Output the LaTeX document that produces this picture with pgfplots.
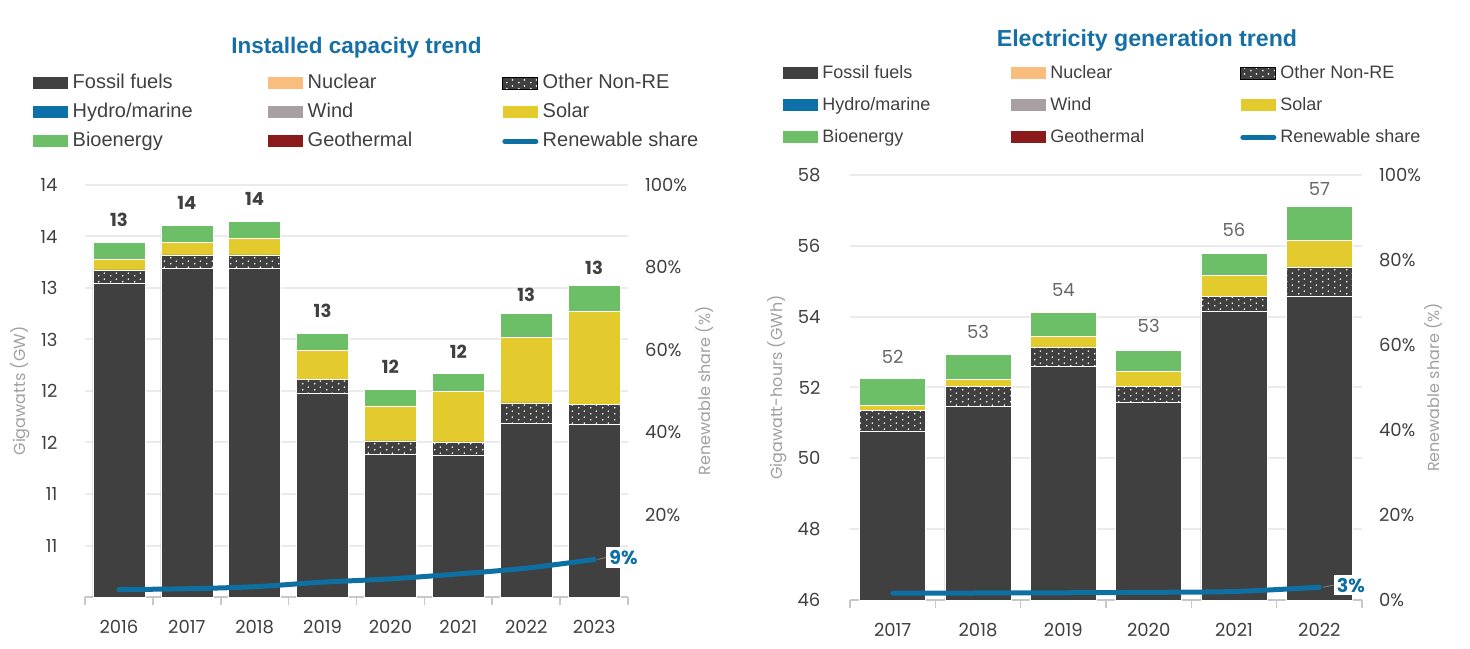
\documentclass[border=0pt]{standalone}
\usepackage{fontspec}
\setmainfont{Liberation Sans}
\newfontfamily\numfont{Poppins}
\usepackage{pgfplots}
\usepackage{pgfplotstable}
\pgfplotsset{compat=1.18}
\usetikzlibrary{patterns}
\definecolor{fossil}{HTML}{404040}
\definecolor{nuclear}{HTML}{F9BD7E}
\definecolor{hydro}{HTML}{0E70A8}
\definecolor{wind}{HTML}{A89FA3}
\definecolor{solar}{HTML}{E3CB2E}
\definecolor{bio}{HTML}{6DBF67}
\definecolor{geo}{HTML}{8B1A1A}
\definecolor{share}{HTML}{0E6FA3}
\definecolor{titlec}{HTML}{1770A5}
\definecolor{gridc}{HTML}{EBEBEB}
\definecolor{axc}{HTML}{C8C8C8}
\definecolor{tickc}{HTML}{404040}
\definecolor{labc}{HTML}{A0A0A0}
\definecolor{barlab}{HTML}{666666}

\pgfdeclarepatternformonly{wdots}{\pgfqpoint{0pt}{0pt}}{\pgfqpoint{6pt}{3pt}}{\pgfqpoint{6pt}{3pt}}{%
  \pgfpathcircle{\pgfqpoint{1.5pt}{0.75pt}}{0.5pt}%
  \pgfpathcircle{\pgfqpoint{4.5pt}{2.25pt}}{0.5pt}%
  \pgfusepath{fill}}

\pgfplotsset{
  barleg/.style={legend image code/.code={\fill[##1, draw=none] (0pt,-3pt) rectangle (17.5pt,3pt);}},
  lineleg/.style={legend image code/.code={\draw[##1, line cap=round] (1pt,0pt) -- (16.5pt,0pt);}},
  numf/.style={font=\numfont\fontsize{9}{10}\selectfont},
}

\pgfplotstableread{
i fossil other solar bio lab
0 13.046 0.129 0.107 0.158 13
1 13.191 0.130 0.123 0.165 14
2 13.191 0.130 0.158 0.169 14
3 11.982 0.133 0.282 0.163 13
4 11.387 0.129 0.340 0.162 12
5 11.377 0.129 0.490 0.175 12
6 11.685 0.200 0.639 0.230 13
7 11.675 0.195 0.906 0.246 13
}\capdata

\pgfplotstableread{
i share
0 1.8
1 2.0
2 2.5
3 3.6
4 4.4
5 5.6
6 7.0
7 9.1
}\capshare

\pgfplotstableread{
i fossil other solar bio lab
0 50.752 0.612 0.141 0.754 52
1 51.457 0.565 0.209 0.706 53
2 52.587 0.536 0.330 0.658 54
3 51.570 0.472 0.404 0.612 53
4 54.139 0.424 0.593 0.632 56
5 54.583 0.799 0.782 0.960 57
}\gendata

\pgfplotstableread{
i share
0 1.6
1 1.65
2 1.7
3 1.8
4 2.0
5 3.0
}\genshare

\begin{document}
\begin{tikzpicture}
\useasboundingbox (0,0) rectangle (735pt,324pt);

% ---------------- Installed capacity ----------------
\begin{axis}[
  at={(42.5pt,25.5pt)}, anchor=south west,
  scale only axis, width=271.5pt, height=206pt,
  ybar stacked, bar width=0.766,
  xmin=-0.5, xmax=7.5, ymin=10, ymax=14,
  axis x line*=bottom, axis y line*=left,
  x axis line style={draw=axc, line width=1pt, -},
  y axis line style={draw=none},
  xtick={0,...,7}, xticklabels={2016,2017,2018,2019,2020,2021,2022,2023},
  minor xtick={-0.5,0.5,...,7.5},
  tick align=outside,
  major x tick style={draw=none},
  minor x tick style={draw=axc, line width=0.8pt},
  minor tick length=4pt,
  ytick={10.5,11,...,14},
  yticklabels={11,11,12,12,13,13,14,14},
  major y tick style={draw=none},
  ymajorgrids, grid style={gridc, line width=1pt},
  tick label style={numf, text=tickc},
  xticklabel style={yshift=-4pt},
  yticklabel style={xshift=-6pt},
  ylabel={Gigawatts (GW)},
  ylabel style={at={(axis description cs:-0.1197,0.5)}, anchor=center, font=\numfont\fontsize{8}{9}\selectfont, text=labc},
  title={Installed capacity trend},
  title style={at={(axis description cs:0.5,1.3034)}, anchor=center, font=\bfseries\fontsize{11.25}{13}\selectfont, text=titlec},
  legend columns=3, legend cell align=left,
  legend style={at={(axis description cs:-0.0958,1.2718)}, anchor=north west, draw=none, fill=none,
    inner sep=0pt, column sep=0pt, row sep=4.5pt, font=\fontsize{10}{12}\selectfont, text=tickc,
    nodes={inner sep=0.5pt, text height=7pt, text depth=2pt}},
]
\addlegendimage{barleg, fill=fossil}\addlegendentry{\makebox[99pt][l]{\,Fossil fuels}}
\addlegendimage{barleg, fill=nuclear}\addlegendentry{\makebox[98.5pt][l]{\,Nuclear}}
\addlegendimage{barleg, fill=fossil, postaction={pattern=wdots, pattern color=white}}\addlegendentry{\,Other Non-RE}
\addlegendimage{barleg, fill=hydro}\addlegendentry{\makebox[99pt][l]{\,Hydro/marine}}
\addlegendimage{barleg, fill=wind}\addlegendentry{\makebox[98.5pt][l]{\,Wind}}
\addlegendimage{barleg, fill=solar}\addlegendentry{\,Solar}
\addlegendimage{barleg, fill=bio}\addlegendentry{\makebox[99pt][l]{\,Bioenergy}}
\addlegendimage{barleg, fill=geo}\addlegendentry{\makebox[98.5pt][l]{\,Geothermal}}
\addlegendimage{lineleg, share, line width=2.5pt}\addlegendentry{\,Renewable share}

\addplot[fill=fossil, draw=white, line width=0.3pt] table[x=i, y=fossil] {\capdata};
\addplot[fill=fossil, draw=white, line width=0.3pt, postaction={pattern=wdots, pattern color=white}] table[x=i, y=other] {\capdata};
\addplot[fill=solar, draw=white, line width=0.3pt] table[x=i, y=solar] {\capdata};
\addplot[fill=bio, draw=white, line width=0.3pt,
  nodes near coords, point meta=explicit symbolic,
  nodes near coords style={anchor=south, yshift=8.5pt, font=\numfont\bfseries\fontsize{9}{10}\selectfont, text=tickc}]
  table[x=i, y=bio, meta=lab] {\capdata};
\end{axis}

\begin{axis}[
  at={(42.5pt,25.5pt)}, anchor=south west,
  scale only axis, width=271.5pt, height=206pt,
  xmin=-0.5, xmax=7.5, ymin=0, ymax=100,
  axis x line=none, axis y line*=right,
  y axis line style={draw=none},
  ytick={20,40,60,80,100},
  yticklabel={\pgfmathprintnumber{\tick}\%},
  /pgf/number format/assume math mode=true,
  major y tick style={draw=none},
  tick label style={numf, text=tickc},
  yticklabel style={xshift=5pt},
  ylabel={Renewable share (\%)},
  ylabel style={at={(axis description cs:1.1418,0.5)}, anchor=center, font=\numfont\fontsize{8}{9}\selectfont, text=labc},
  clip=false,
]
\addplot[share, line width=2.5pt, smooth, tension=0.5, line cap=round] table[x=i, y=share] {\capshare};
\addplot[gray, line width=0.4pt] coordinates {(7.05,9.1) (7.18,9.6)};
\addplot[draw=none, nodes near coords, point meta=explicit symbolic,
  nodes near coords style={anchor=west, xshift=6pt, yshift=0pt, fill=white, inner sep=1.5pt, text=share, font=\numfont\bfseries\fontsize{9.5}{10}\selectfont}]
  coordinates {(7,9.6) [9\%]};
\end{axis}

% ---------------- Electricity generation ----------------
\begin{axis}[
  at={(425pt,24pt)}, anchor=south west,
  scale only axis, width=256pt, height=212.5pt,
  ybar stacked, bar width=0.774,
  xmin=-0.5, xmax=5.5, ymin=46, ymax=58,
  axis x line*=bottom, axis y line*=left,
  x axis line style={draw=axc, line width=1pt, -},
  y axis line style={draw=none},
  xtick={0,...,5}, xticklabels={2017,2018,2019,2020,2021,2022},
  minor xtick={-0.5,0.5,...,5.5},
  tick align=outside,
  major x tick style={draw=none},
  minor x tick style={draw=axc, line width=0.8pt},
  minor tick length=4pt,
  ytick={46,48,...,58},
  /pgf/number format/assume math mode=true,
  major y tick style={draw=none},
  ymajorgrids, grid style={gridc, line width=1pt},
  tick label style={numf, text=tickc},
  xticklabel style={yshift=-4pt},
  yticklabel style={xshift=-7pt},
  ylabel={Gigawatt-hours (GWh)},
  ylabel style={at={(axis description cs:-0.1426,0.5)}, anchor=center, font=\numfont\fontsize{8}{9}\selectfont, text=labc},
  title={Electricity generation trend},
  title style={at={(axis description cs:0.580,1.2871)}, anchor=center, font=\bfseries\fontsize{11.6}{13}\selectfont, text=titlec},
  legend columns=3, legend cell align=left,
  legend style={at={(axis description cs:-0.1309,1.2635)}, anchor=north west, draw=none, fill=none,
    inner sep=0pt, column sep=0pt, row sep=6pt, font=\fontsize{9}{11}\selectfont, text=tickc,
    nodes={inner sep=0.5pt, text height=7pt, text depth=2pt}},
]
\addlegendimage{barleg, fill=fossil}\addlegendentry{\makebox[95.5pt][l]{\,Fossil fuels}}
\addlegendimage{barleg, fill=nuclear}\addlegendentry{\makebox[96pt][l]{\,Nuclear}}
\addlegendimage{barleg, fill=fossil, postaction={pattern=wdots, pattern color=white}}\addlegendentry{\,Other Non-RE}
\addlegendimage{barleg, fill=hydro}\addlegendentry{\makebox[95.5pt][l]{\,Hydro/marine}}
\addlegendimage{barleg, fill=wind}\addlegendentry{\makebox[96pt][l]{\,Wind}}
\addlegendimage{barleg, fill=solar}\addlegendentry{\,Solar}
\addlegendimage{barleg, fill=bio}\addlegendentry{\makebox[95.5pt][l]{\,Bioenergy}}
\addlegendimage{barleg, fill=geo}\addlegendentry{\makebox[96pt][l]{\,Geothermal}}
\addlegendimage{lineleg, share, line width=2.5pt}\addlegendentry{\,Renewable share}

\addplot[fill=fossil, draw=white, line width=0.3pt] table[x=i, y=fossil] {\gendata};
\addplot[fill=fossil, draw=white, line width=0.3pt, postaction={pattern=wdots, pattern color=white}] table[x=i, y=other] {\gendata};
\addplot[fill=solar, draw=white, line width=0.3pt] table[x=i, y=solar] {\gendata};
\addplot[fill=bio, draw=white, line width=0.3pt,
  nodes near coords, point meta=explicit symbolic,
  nodes near coords style={anchor=south, yshift=10.5pt, font=\numfont\fontsize{9}{10}\selectfont, text=barlab}]
  table[x=i, y=bio, meta=lab] {\gendata};
\end{axis}

\begin{axis}[
  at={(425pt,24pt)}, anchor=south west,
  scale only axis, width=256pt, height=212.5pt,
  xmin=-0.5, xmax=5.5, ymin=0, ymax=100,
  axis x line=none, axis y line*=right,
  y axis line style={draw=none},
  ytick={0,20,40,60,80,100},
  yticklabel={\pgfmathprintnumber{\tick}\%},
  /pgf/number format/assume math mode=true,
  major y tick style={draw=none},
  tick label style={numf, text=tickc},
  yticklabel style={xshift=5pt},
  ylabel={Renewable share (\%)},
  ylabel style={at={(axis description cs:1.1387,0.5)}, anchor=center, font=\numfont\fontsize{8}{9}\selectfont, text=labc},
  clip=false,
]
\addplot[share, line width=2.5pt, smooth, tension=0.5, line cap=round] table[x=i, y=share] {\genshare};
\addplot[gray, line width=0.4pt] coordinates {(5.04,3.0) (5.17,3.5)};
\addplot[draw=none, nodes near coords, point meta=explicit symbolic,
  nodes near coords style={anchor=west, xshift=7pt, fill=white, inner sep=1.5pt, text=share, font=\numfont\bfseries\fontsize{9.5}{10}\selectfont}]
  coordinates {(5,3.5) [3\%]};
\end{axis}
\end{tikzpicture}
\end{document}
